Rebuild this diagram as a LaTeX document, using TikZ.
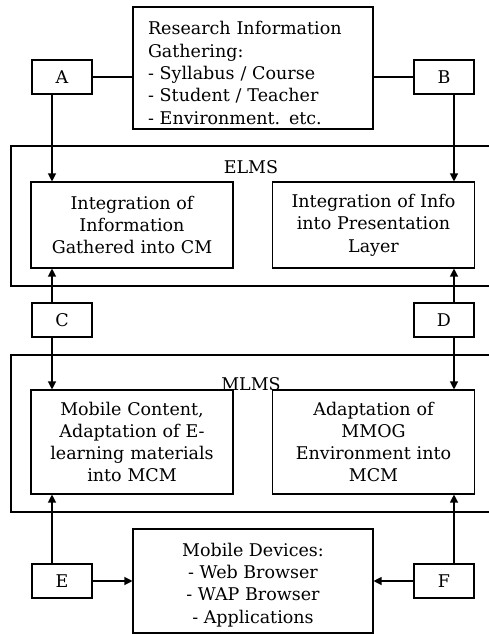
\documentclass[tikz,border=0pt]{standalone}
\usepackage{fontspec}
\setmainfont{DejaVu Serif}
\usetikzlibrary{arrows.meta}
\tikzset{
  txt/.style={font=\fontsize{17.5}{22.3}\selectfont},
  box/.style={draw, line width=1.1pt, txt, inner sep=0pt, align=center},
  letterbox/.style={box, minimum width=60pt, minimum height=34pt},
  inbox/.style={box, minimum width=202pt, text width=195pt},
  frame/.style={line width=1.1pt},
  conn/.style={line width=1.2pt},
  arr/.style={conn, -{Triangle[length=8pt,width=8pt]}}
}
\begin{document}
\begin{tikzpicture}[x=1pt,y=-1pt]
\useasboundingbox (0,0) rectangle (489,634);
% frames
\draw[frame] (490,146) -- (11,146) -- (11,286) -- (490,286);
\draw[frame] (490,355) -- (11,355) -- (11,512) -- (490,512);
\node[txt] (elms) at (251,167) {ELMS};
\node[txt] (mlms) at (251,384) {MLMS};
% top box
\node[box, minimum width=240pt, minimum height=122pt] (R) at (253,68) {};
\node[txt, inner sep=0pt, text width=210pt, align=left] (Rt) at (253,73)
  {Research Information\\Gathering:\\- Syllabus / Course\\- Student / Teacher\\- Environment. etc.};
% letters
\node[letterbox] (A) at (62,77) {A};
\node[letterbox] (B) at (444,77) {B};
\node[letterbox] (C) at (62,320) {C};
\node[letterbox] (D) at (444,320) {D};
\node[letterbox] (E) at (62,581) {E};
\node[letterbox] (F) at (444,581) {F};
% inner boxes
\node[inbox, minimum height=86pt] (L1) at (132,225) {Integration of\\Information\\Gathered into CM};
\node[inbox, minimum height=86pt] (R1) at (373.5,225) {Integration of Info\\into Presentation\\Layer};
\node[inbox, minimum height=104pt] (L2) at (132,442) {Mobile Content,\\Adaptation of E-\\learning materials\\into MCM};
\node[inbox, minimum height=104pt] (R2) at (373.5,442) {Adaptation of\\MMOG\\Environment into\\MCM};
\node[box, minimum width=240pt, minimum height=104pt] (M) at (253,581) {};
\node[txt, inner sep=0pt, align=center] (Mt) at (253,585) {Mobile Devices:\\- Web Browser\\- WAP Browser\\- Applications};
% connectors
\draw[conn] (A.east) -- (R.west |- A.east);
\draw[conn] (B.west) -- (R.east |- B.west);
\draw[arr] ([xshift=-10pt]A.south) -- ([xshift=-10pt]A.south |- L1.north);
\draw[arr] ([xshift=10pt]B.south) -- ([xshift=10pt]B.south |- R1.north);
\draw[arr] ([xshift=-10pt]C.north) -- ([xshift=-10pt]C.north |- L1.south);
\draw[arr] ([xshift=10pt]D.north) -- ([xshift=10pt]D.north |- R1.south);
\draw[arr] ([xshift=-10pt]C.south) -- ([xshift=-10pt]C.south |- L2.north);
\draw[arr] ([xshift=10pt]D.south) -- ([xshift=10pt]D.south |- R2.north);
\draw[arr] ([xshift=-10pt]E.north) -- ([xshift=-10pt]E.north |- L2.south);
\draw[arr] ([xshift=10pt]F.north) -- ([xshift=10pt]F.north |- R2.south);
\draw[arr] (E.east) -- (M.west |- E.east);
\draw[arr] (F.west) -- (M.east |- F.west);
\end{tikzpicture}
\end{document}
